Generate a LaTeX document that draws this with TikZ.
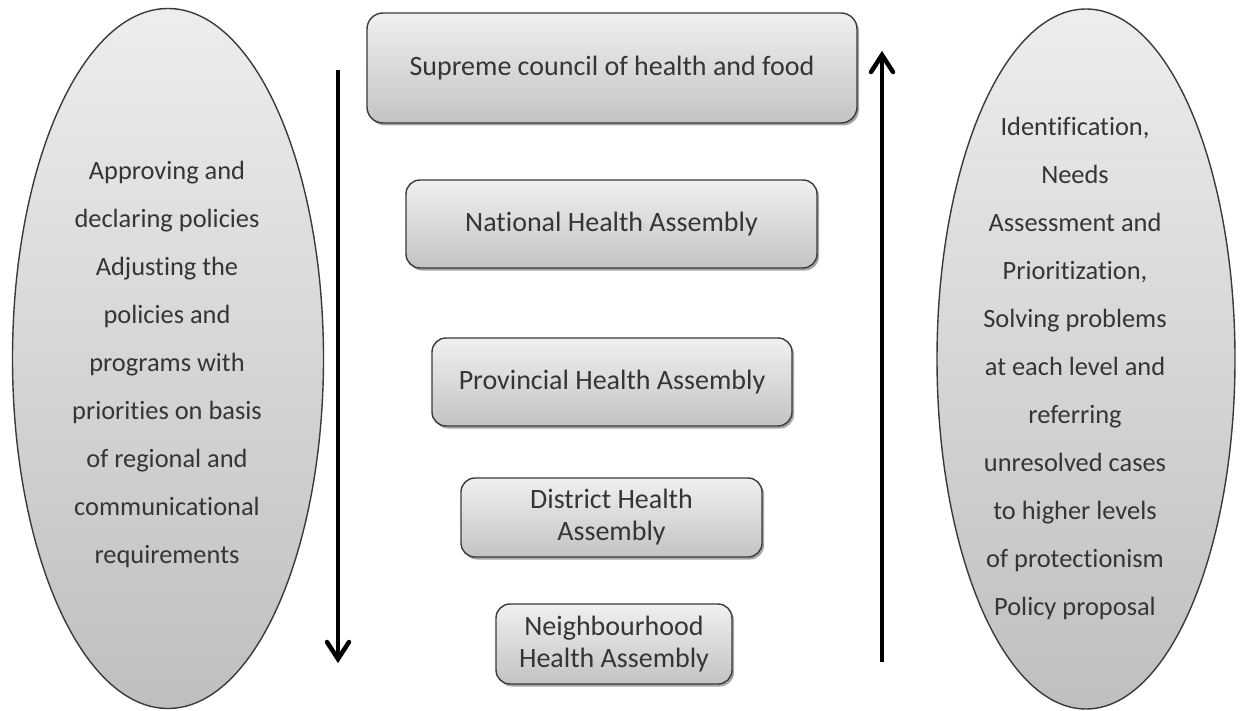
\documentclass[tikz,border=0pt]{standalone}
\usepackage{fontspec}
\setmainfont{Carlito}[Ligatures=NoCommon]
\usetikzlibrary{shadows,shapes.geometric,calc}
\definecolor{edge}{HTML}{3A3A3A}
\definecolor{ink}{HTML}{353535}
\definecolor{boxtop}{HTML}{F0F0F0}
\definecolor{boxbot}{HTML}{C3C3C3}
\definecolor{lobetop}{HTML}{EDEDED}
\definecolor{lobebot}{HTML}{BFBFBF}
\tikzset{
  level/.style={draw=edge, line width=1.4pt, rounded corners=14pt,
    top color=boxtop, bottom color=boxbot, text=ink, align=center,
    inner sep=0pt, font=\fontsize{28}{32}\selectfont,
    drop shadow={shadow xshift=2pt, shadow yshift=-2.5pt, opacity=0.35, fill=black}},
  lobe/.style={ellipse, draw=edge, line width=1.4pt, top color=lobetop,
    bottom color=lobebot, inner sep=0pt},
  lobetext/.style={align=center, text=ink, inner sep=0pt,
    font=\fontsize{26.4}{48}\selectfont},
  flow/.style={line width=4pt},
  chevron/.style={line width=4.5pt, line cap=round, line join=miter}
}
\begin{document}
\begin{tikzpicture}[x=1pt,y=-1pt]
  \useasboundingbox (0,0) rectangle (1241,711);
  \fill[white] (0,0) rectangle (1241,711);

  % side ellipses
  \node[lobe, minimum width=311pt, minimum height=700pt] (left) at (168,358.5) {};
  \node[lobe, minimum width=298pt, minimum height=700pt] (right) at (1086,359) {};
  \node[lobetext] (lefttext) at (167,364) {Approving and\\ declaring policies\\ Adjusting the\\ policies and\\ programs with\\ priorities on basis\\ of regional and\\ communicational\\ requirements};
  \node[lobetext] (righttext) at (1075,368) {Identification,\\ Needs\\ Assessment and\\ Prioritization,\\ Solving problems\\ at each level and\\ referring\\ unresolved cases\\ to higher levels\\ of protectionism\\ Policy proposal};

  % the five assembly levels
  \node[level, minimum width=490pt, minimum height=110pt, rounded corners=16pt] (supreme) at (612,68) {Supreme council of health and food};
  \node[level, minimum width=411pt, minimum height=88pt] (national) at (611.5,224) {National Health Assembly};
  \node[level, minimum width=360pt, minimum height=88pt] (provincial) at (612,382) {Provincial Health Assembly};
  \node[level, minimum width=301pt, minimum height=79pt] (district) at (611.5,517.5) {District Health\\ Assembly};
  \node[level, minimum width=236pt, minimum height=80pt] (neighbour) at (614,644) {Neighbourhood\\ Health Assembly};

  % top-down and bottom-up flows, each with an open chevron head
  \coordinate (downstart) at (338,70);
  \coordinate (downend) at (338,659);
  \coordinate (upstart) at (882,662);
  \coordinate (upend) at (882,55);
  \draw[flow] (downstart) -- (downend);
  \draw[chevron] ($(downend)+(-11,-17)$) -- (downend) -- ($(downend)+(11,-17)$);
  \draw[flow] (upstart) -- (upend);
  \draw[chevron] ($(upend)+(-11,17)$) -- (upend) -- ($(upend)+(11,17)$);
\end{tikzpicture}
\end{document}
